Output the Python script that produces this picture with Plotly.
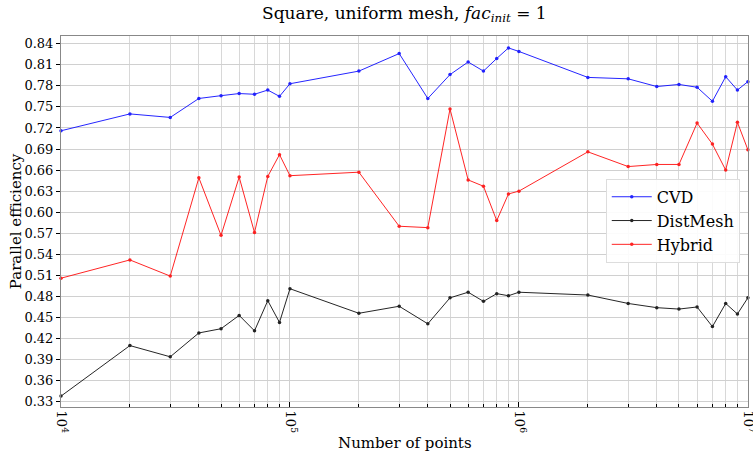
import plotly.graph_objects as go

# number of points (1..9 x each decade, 1e4 .. 1e7)
points = [1e4, 2e4, 3e4, 4e4, 5e4, 6e4, 7e4, 8e4, 9e4,
          1e5, 2e5, 3e5, 4e5, 5e5, 6e5, 7e5, 8e5, 9e5,
          1e6, 2e6, 3e6, 4e6, 5e6, 6e6, 7e6, 8e6, 9e6,
          1e7]

cvd = [0.716, 0.740, 0.735, 0.762, 0.766, 0.769, 0.768, 0.774, 0.765,
       0.783, 0.801, 0.826, 0.762, 0.796, 0.814, 0.801, 0.819, 0.834,
       0.829, 0.792, 0.790, 0.779, 0.782, 0.778, 0.758, 0.793, 0.774,
       0.786]

distmesh = [0.338, 0.410, 0.394, 0.428, 0.434, 0.453, 0.431, 0.474, 0.443,
            0.491, 0.456, 0.466, 0.441, 0.478, 0.486, 0.473, 0.484, 0.481,
            0.486, 0.482, 0.470, 0.464, 0.462, 0.465, 0.437, 0.470, 0.455,
            0.478]

hybrid = [0.506, 0.532, 0.509, 0.649, 0.567, 0.650, 0.571, 0.651, 0.682,
          0.652, 0.657, 0.580, 0.578, 0.747, 0.646, 0.637, 0.588, 0.626,
          0.630, 0.686, 0.665, 0.668, 0.668, 0.727, 0.697, 0.660, 0.728,
          0.689]

series = [('CVD', cvd, 'blue'), ('DistMesh', distmesh, 'black'), ('Hybrid', hybrid, 'red')]

serif = 'DejaVu Serif'

fig = go.Figure()
for name, vals, col in series:
    fig.add_trace(go.Scatter(x=points, y=vals, mode='lines+markers', name=name,
                             line=dict(color=col, width=1),
                             marker=dict(color=col, size=3.5),
                             opacity=0.85, cliponaxis=False))

minor_vals = [m * 10 ** e for e in (4, 5, 6) for m in range(2, 10)]

fig.update_layout(
    width=753, height=453,
    margin=dict(l=61, r=5, t=36, b=46, autoexpand=False),
    plot_bgcolor='white', paper_bgcolor='white',
    font=dict(family=serif, size=13, color='black'),
    title=dict(text='Square, uniform mesh, <i>fac</i><sub><i>init</i></sub> = 1',
               x=0.537, xanchor='center', y=0.985, yanchor='top',
               font=dict(family=serif, size=17)),
    legend=dict(x=0.988, xanchor='right', y=0.615, yanchor='top',
                bgcolor='rgba(255,255,255,0.9)', bordercolor='#dddddd', borderwidth=1,
                font=dict(family=serif, size=16), itemwidth=40),
    showlegend=True,
    annotations=[
        dict(text='Number of points', xref='paper', yref='paper', x=0.5, y=-0.068,
             xanchor='center', yanchor='top', showarrow=False,
             font=dict(family=serif, size=15)),
        dict(text='Parallel efficiency', xref='paper', yref='paper', x=-0.066, y=0.5,
             xanchor='center', yanchor='middle', textangle=-90, showarrow=False,
             font=dict(family=serif, size=15)),
    ],
)

fig.update_xaxes(
    type='log', range=[4, 7.0005], automargin=False,
    tickvals=[1e4, 1e5, 1e6, 1e7],
    ticktext=['10<sup>4</sup>', '10<sup>5</sup>', '10<sup>6</sup>', '10<sup>7</sup>'],
    tickangle=90, ticks='inside', ticklen=5, tickcolor='black',
    ticklabeloverflow='allow',
    showgrid=True, gridcolor='#d0d0d0', gridwidth=1,
    minor=dict(tickvals=minor_vals, ticks='inside', ticklen=3, tickcolor='black',
               showgrid=True, gridcolor='#d8d8d8', gridwidth=1),
    showline=True, linecolor='#888888', linewidth=1, mirror=True,
    tickfont=dict(family=serif, size=13),
)

fig.update_yaxes(
    range=[0.3225, 0.851], automargin=False,
    tick0=0.33, dtick=0.03, tickformat='.2f',
    ticks='outside', ticklen=4, tickcolor='black',
    showgrid=True, gridcolor='#d0d0d0', gridwidth=1,
    showline=True, linecolor='#888888', linewidth=1, mirror=True,
    zeroline=False,
    tickfont=dict(family=serif, size=13),
)

# the page has a default body margin; drop it so the figure fills the window
fig.write_html('out.html', config={'displayModeBar': False},
               post_script="document.body.style.margin='0';")
